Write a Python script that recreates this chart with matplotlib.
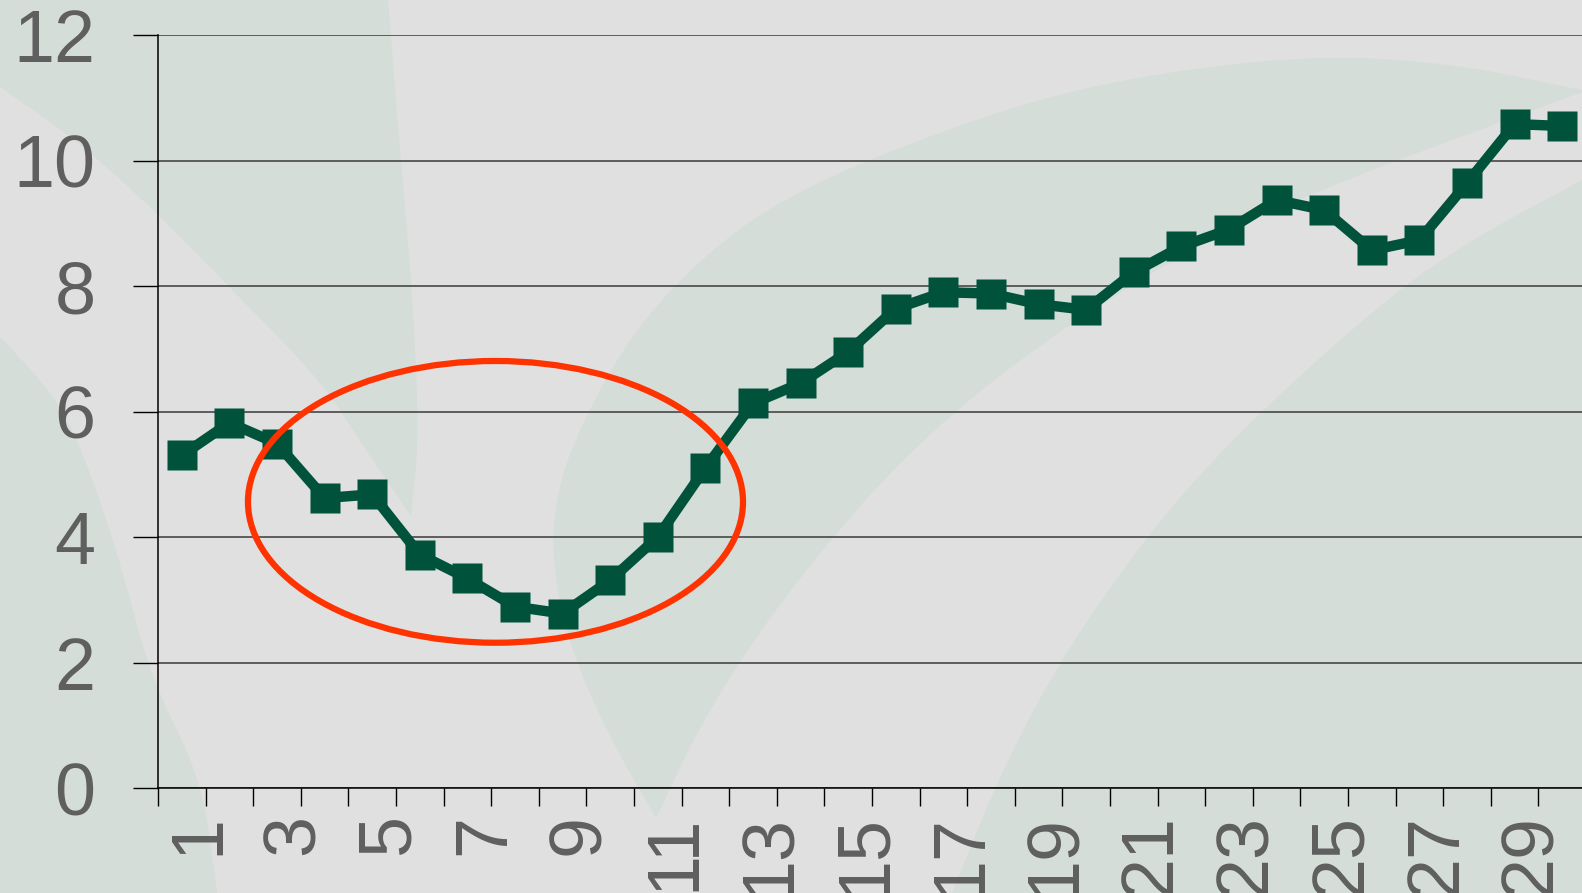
import numpy as np
import matplotlib
matplotlib.use("Agg")
import matplotlib.pyplot as plt
from matplotlib.patches import Polygon, Ellipse
from matplotlib.transforms import ScaledTranslation

# data
days = list(range(1, 31))
values = [5.30, 5.82, 5.49, 4.62, 4.68, 3.72, 3.34, 2.89, 2.78, 3.31,
          4.00, 5.10, 6.13, 6.45, 6.95, 7.64, 7.90, 7.88, 7.71, 7.62,
          8.22, 8.63, 8.90, 9.37, 9.21, 8.57, 8.73, 9.64, 10.58, 10.55]
y_ticks = [0, 2, 4, 6, 8, 10, 12]
x_labels = [str(d) for d in days[::2]]

W, H = 1582, 893
GRAY = "#e0e0e0"
PALE = "#d5ddd9"
LINE = "#00533a"
TEXT = "#5f5f5f"


def smooth(pts, n=4):
    # chaikin corner cutting, endpoints kept
    p = np.array(pts, dtype=float)
    for _ in range(n):
        q = [p[0]]
        for a, b in zip(p[:-1], p[1:]):
            q.append(0.75 * a + 0.25 * b)
            q.append(0.25 * a + 0.75 * b)
        q.append(p[-1])
        p = np.array(q)
    return p


fig = plt.figure(figsize=(W / 100, H / 100), dpi=100)
fig.patch.set_facecolor(GRAY)

# background swooshes, in pixel coords
bg = fig.add_axes([0, 0, 1, 1])
bg.set_xlim(0, W)
bg.set_ylim(H, 0)
bg.axis("off")

leaf = smooth([(388, 0), (400, 150), (413, 300), (419, 440), (411, 516)])
leaf_back = smooth([(411, 516), (363, 446), (323, 383), (242, 300),
                    (151, 207), (76, 140), (0, 87)])
shape1 = np.vstack([[(0, 0)], leaf, leaf_back])

bl = smooth([(0, 337), (50, 390), (81, 446), (120, 560), (151, 679),
             (202, 779), (217, 893)])
shape2 = np.vstack([bl, [(0, 893)]])

outer = smooth([(656, 818), (605, 729), (570, 646), (555, 580), (552, 520),
                (570, 446), (631, 333), (706, 253), (791, 193), (942, 130),
                (1094, 83), (1296, 55), (1447, 62), (1582, 90)])
inner = smooth([(1582, 92), (1245, 217), (1053, 333), (912, 446),
                (791, 586), (706, 713), (656, 818)])
shape3 = np.vstack([outer, inner])

br = smooth([(1582, 180), (1447, 253), (1346, 333), (1225, 446),
             (1144, 539), (1058, 663), (998, 779), (952, 893)])
shape4 = np.vstack([br, [(1582, 893)]])

for s in [shape1, shape2, shape3, shape4]:
    bg.add_patch(Polygon(s, closed=True, facecolor=PALE, edgecolor="none"))

ax = fig.add_axes([158 / W, 105 / H, 1428 / W, 753 / H])
ax.patch.set_alpha(0)

ax.plot(days, values, color=LINE, lw=7.5, marker="s", ms=22, mec="none",
        solid_joinstyle="miter", zorder=3)

ax.add_patch(Ellipse((7.59, 4.56), 10.4, 4.49, fill=False, ec="#ff3300",
                     lw=4.5, zorder=4))

ax.set_xlim(0.5, 30.5)
ax.set_ylim(0, 12)
ax.set_yticks(y_ticks)
ax.set_yticklabels([str(t) for t in y_ticks])
ax.set_xticks(days[::2])
ax.set_xticklabels(x_labels, rotation=90)
ax.set_xticks(np.arange(0.5, 31, 1), minor=True)

ax.yaxis.grid(True, color="#3a3a3a", lw=1.1)
ax.set_axisbelow(True)

for side in ["top", "right"]:
    ax.spines[side].set_visible(False)
for side in ["left", "bottom"]:
    ax.spines[side].set_color("black")
    ax.spines[side].set_linewidth(1.1)

ax.tick_params(axis="y", length=18, width=1, color="black", pad=27,
               labelsize=53, labelcolor=TEXT)
ax.tick_params(axis="x", which="major", length=0, pad=19,
               labelsize=53, labelcolor=TEXT)
ax.tick_params(axis="x", which="minor", length=13, width=1, color="black")

for lab in ax.get_xticklabels() + ax.get_yticklabels():
    lab.set_fontfamily("Liberation Sans")
shift = ScaledTranslation(0.17, 0, fig.dpi_scale_trans)
for lab in ax.get_xticklabels():
    lab.set_transform(lab.get_transform() + shift)

fig.savefig("out.png", dpi=100, facecolor=GRAY)
